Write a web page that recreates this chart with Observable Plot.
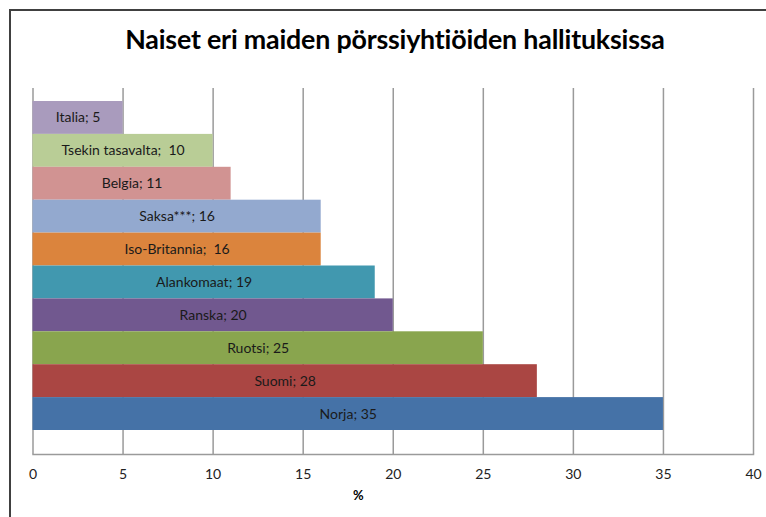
<!DOCTYPE html>
<html>
<head>
<meta charset="utf-8">
<script src="https://cdn.jsdelivr.net/npm/d3@7"></script>
<script src="https://cdn.jsdelivr.net/npm/@observablehq/plot@0.6"></script>
<style>
  body { margin: 0; background: #fff; }
  #wrap { position: relative; width: 766px; height: 517px; overflow: hidden; background: #fff; font-family: Lato, "Open Sans", sans-serif; }
  #border { position: absolute; left: 9px; top: 9px; width: 900px; height: 700px; border-left: 2px solid #404040; border-top: 2px solid #404040; }
  #title { position: absolute; left: 0; width: 790px; top: 23px; text-align: center; font-size: 26.8px; font-weight: bold; color: #000; letter-spacing: -0.2px; }
  #xlabel { position: absolute; left: 353px; top: 487px; font-size: 13px; font-weight: bold; color: #000; }
  #chart { position: absolute; left: 0; top: 0; }
</style>
</head>
<body>
<div id="wrap">
  <div id="border"></div>
  <div id="chart"></div>
  <div id="title">Naiset eri maiden pörssiyhtiöiden hallituksissa</div>
  <div id="xlabel">%</div>
</div>
<script>
const countries = ["Italia", "Tsekin tasavalta", "Belgia", "Saksa***", "Iso-Britannia", "Alankomaat", "Ranska", "Ruotsi", "Suomi", "Norja"];
const values = [5, 10, 11, 16, 16, 19, 20, 25, 28, 35];
const labels = ["Italia; 5", "Tsekin tasavalta;\u00a0 10", "Belgia; 11", "Saksa***; 16", "Iso-Britannia;\u00a0 16", "Alankomaat; 19", "Ranska; 20", "Ruotsi; 25", "Suomi; 28", "Norja; 35"];
const colors = ["#A99BBD", "#B9CD96", "#D19392", "#93A9CF", "#DB843D", "#4198AF", "#71588F", "#89A54E", "#AA4643", "#4572A7"];
const xTicks = [0, 5, 10, 15, 20, 25, 30, 35, 40];

const data = countries.map((c, i) => ({name: c, value: values[i], label: labels[i]}));

const chart = Plot.plot({
  width: 766,
  height: 517,
  marginLeft: 32.5,
  marginRight: 13,
  marginTop: 88,
  marginBottom: 63,
  style: {fontFamily: "Lato, 'Open Sans', sans-serif", background: "transparent", overflow: "visible"},
  x: {domain: [0, 40], ticks: xTicks, tickSize: 0, tickPadding: 15, label: null},
  y: {domain: countries, range: [101, 430], padding: 0, round: false, axis: null},
  color: {domain: countries, range: colors},
  marks: [
    Plot.gridX(xTicks, {stroke: "#9a9a9a", strokeOpacity: 1, strokeWidth: 1.5}),
    Plot.barX(data, {x: "value", y: "name", fill: "name", insetTop: 0, insetBottom: 0}),
    Plot.frame({anchor: "bottom", stroke: "#9a9a9a", strokeWidth: 1.5}),
    Plot.axisX({ticks: xTicks, tickSize: 0, tickPadding: 15, fontSize: 14, fill: "#222", label: null}),
    Plot.text(data, {x: d => d.value / 2, y: "name", text: "label", fill: "#1a1a1a", fontSize: 14})
  ]
});
document.getElementById("chart").appendChild(chart);
</script>
</body>
</html>
